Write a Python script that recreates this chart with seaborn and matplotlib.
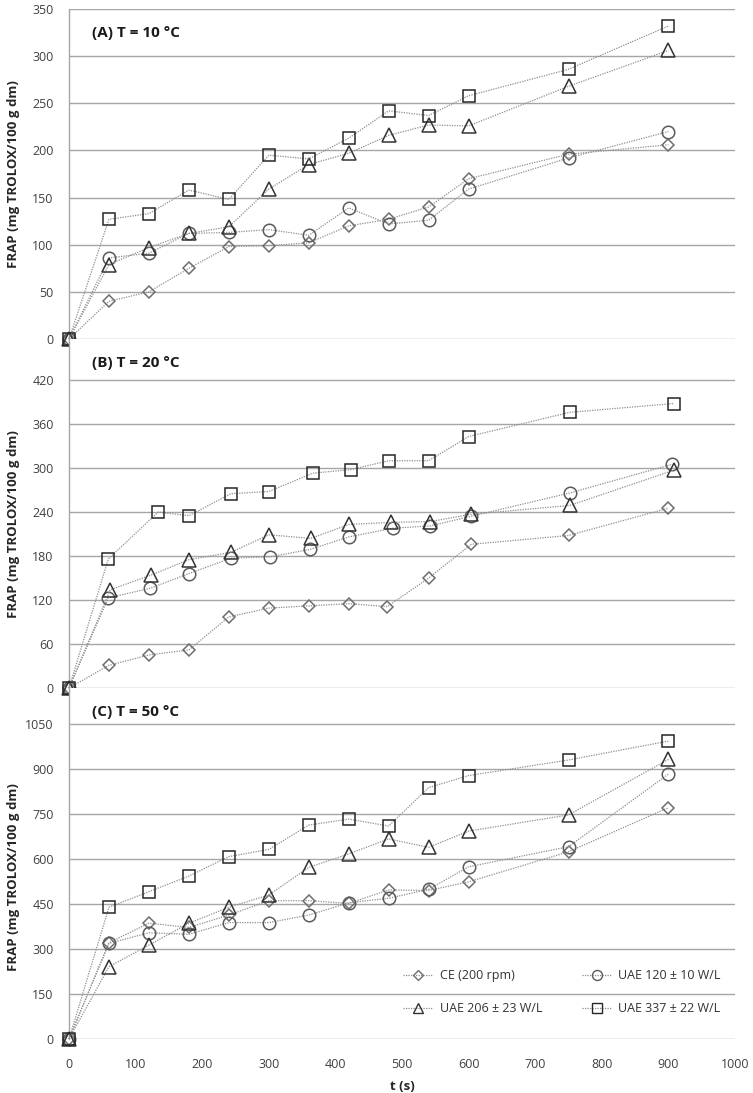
import numpy as np
import pandas as pd
import seaborn as sns
import matplotlib.pyplot as plt
from matplotlib.lines import Line2D

# time points (s)
t_std = [0, 60, 120, 180, 240, 300, 360, 420, 480, 540, 600, 750, 900]

# (A) T = 10 °C
a_ce = [0, 40, 50, 75, 98, 99, 102, 120, 127, 140, 170, 196, 206]
a_u120 = [0, 86, 91, 112, 113, 116, 110, 139, 122, 126, 159, 192, 220]
a_u206 = [0, 79, 97, 112, 119, 159, 185, 197, 216, 227, 226, 268, 306]
a_u337 = [0, 127, 133, 158, 148, 195, 191, 213, 242, 237, 258, 286, 332]

# (B) T = 20 °C
b_t_ce = [0, 60, 120, 180, 240, 300, 360, 420, 478, 540, 604, 750, 899]
b_t_u120 = [0, 59, 122, 180, 243, 302, 362, 420, 486, 542, 603, 752, 905]
b_t_u206 = [0, 62, 123, 180, 243, 300, 363, 420, 483, 542, 604, 752, 908]
b_t_u337 = [0, 59, 134, 180, 243, 300, 366, 424, 480, 540, 600, 752, 908]
b_ce = [0, 31, 45, 52, 97, 109, 112, 115, 111, 150, 196, 208, 245]
b_u120 = [0, 123, 136, 156, 177, 179, 189, 206, 218, 221, 234, 266, 305]
b_u206 = [0, 134, 154, 175, 185, 209, 204, 223, 226, 227, 237, 249, 297]
b_u337 = [0, 176, 240, 235, 265, 268, 293, 298, 310, 310, 343, 376, 388]

# (C) T = 50 °C
c_ce = [0, 321, 386, 372, 413, 461, 461, 452, 497, 495, 524, 624, 771]
c_u120 = [0, 319, 354, 349, 388, 388, 413, 454, 469, 499, 574, 641, 883]
c_u206 = [0, 241, 313, 386, 439, 480, 572, 617, 667, 639, 693, 747, 932]
c_u337 = [0, 439, 491, 543, 608, 632, 713, 733, 710, 838, 878, 930, 993]

labels = ["CE (200 rpm)", "UAE 120 ± 10 W/L", "UAE 206 ± 23 W/L", "UAE 337 ± 22 W/L"]
markers = ["D", "o", "^", "s"]
msizes = [6.5, 9, 9.5, 9]
edge_cols = ["#6e6e6e", "#5a5a5a", "#333333", "#262626"]

sns.set_style("white")
plt.rcParams["font.family"] = ["Open Sans", "DejaVu Sans"]

W, H = 753, 1093
fig = plt.figure(figsize=(W / 100, H / 100), dpi=100)

x0, x1 = 69, 735
panels = [
    # top px, bottom px, ylim top, ticks, title, times, series, label y
    (9, 339, 350, np.arange(0, 351, 50), "(A) T = 10 °C",
     [t_std] * 4, [a_ce, a_u120, a_u206, a_u337], 0.5),
    (339, 688, 476, np.arange(0, 421, 60), "(B) T = 20 °C",
     [b_t_ce, b_t_u120, b_t_u206, b_t_u337], [b_ce, b_u120, b_u206, b_u337], 0.47),
    (688, 1039, 1170, np.arange(0, 1051, 150), "(C) T = 50 °C",
     [t_std] * 4, [c_ce, c_u120, c_u206, c_u337], 0.46),
]

axes = []
for top, bot, ytop, ticks, title, times, series, ly in panels:
    ax = fig.add_axes([x0 / W, 1 - bot / H, (x1 - x0) / W, (bot - top) / H])
    for i in range(4):
        df = pd.DataFrame({"t": times[i], "v": series[i]})
        sns.lineplot(data=df, x="t", y="v", ax=ax, color="#8f8f8f", lw=0.9,
                     ls=(0, (1, 1)), marker=markers[i], ms=msizes[i],
                     mfc="none", mec=edge_cols[i], mew=1.1, clip_on=False,
                     zorder=3)
    ax.set_xlim(0, 1000)
    ax.set_ylim(0, ytop)
    ax.set_yticks(ticks)
    ax.yaxis.grid(True, color="#a6a6a6", lw=1.0)
    ax.xaxis.grid(False)
    for s in ["top", "right", "bottom"]:
        ax.spines[s].set_visible(False)
    ax.spines["left"].set_color("#a6a6a6")
    ax.spines["left"].set_linewidth(1.0)
    ax.tick_params(axis="y", length=0, pad=11, labelsize=9, labelcolor="#404040")
    ax.set_ylabel("FRAP (mg TROLOX/100 g dm)", fontsize=9.5, fontweight="bold",
                  color="#262626")
    ax.yaxis.set_label_coords(-0.074, ly)
    ax.text(92 / W, 1 - (top + 24) / H, title, transform=fig.transFigure,
            fontsize=11, fontweight="bold", color="#1a1a1a", va="center")
    axes.append(ax)

for ax in axes[:2]:
    ax.set_xticks([])
    ax.set_xlabel("")

axc = axes[2]
axc.set_xticks(np.arange(0, 1001, 100))
axc.tick_params(axis="x", length=0, pad=14, labelsize=9, labelcolor="#404040")
axc.set_xlabel("t (s)", fontsize=9.5, fontweight="bold", color="#262626", labelpad=6)

handles = [Line2D([], [], color="#8f8f8f", lw=0.9, ls=(0, (1, 1)), marker=markers[i],
                  ms=msizes[i] * 0.8, mfc="none", mec=edge_cols[i], mew=1.0)
           for i in range(4)]
order = [0, 2, 1, 3]
fig.legend([handles[i] for i in order], [labels[i] for i in order],
           loc="upper left", bbox_to_anchor=(392 / W, 1 - 958 / H), ncol=2,
           frameon=False, fontsize=9, labelspacing=1.6, handlelength=2.4,
           handletextpad=0.5, columnspacing=3.2, labelcolor="#333333")

fig.savefig("out.png", dpi=100)
